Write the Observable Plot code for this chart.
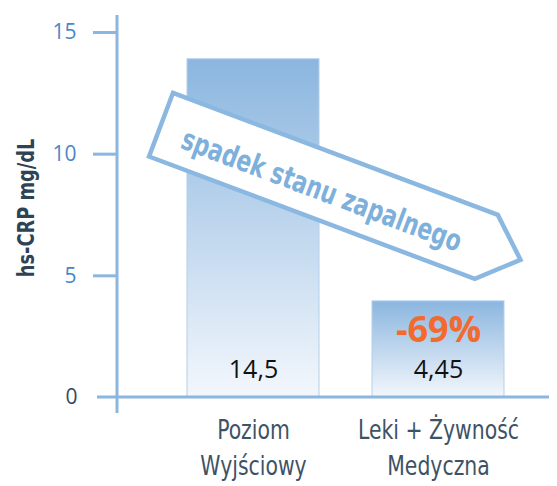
<!DOCTYPE html>
<html><head><meta charset="utf-8">
<script src="https://cdn.jsdelivr.net/npm/d3@7"></script>
<script src="https://cdn.jsdelivr.net/npm/@observablehq/plot@0.6"></script>
<style>body{margin:0;background:#fff}</style>
</head><body><div id="chart"></div>
<script>
const categories = ["Poziom\nWyjściowy", "Leki + Żywność\nMedyczna"];
const values = [13.9, 3.95];
const valueLabels = ["14,5", "4,45"];
const changeLabel = "-69%";
const yTicks = [0, 5, 10, 15];
const yLabel = "hs-CRP mg/dL";
const arrowLabel = "spadek stanu zapalnego";

const data = categories.map((c, i) => ({category: c, value: values[i], label: valueLabels[i]}));
const condensed = "'Liberation Sans Narrow', 'DejaVu Sans Condensed', sans-serif";
const axisBlue = "#8ab6df";

const plot = Plot.plot({
  width: 557, height: 486,
  marginLeft: 117, marginRight: 53, marginTop: 32, marginBottom: 89,
  style: {background: "#fff", overflow: "visible"},
  x: {domain: categories, paddingInner: 0.2865, paddingOuter: 0.189, align: 1, axis: null},
  y: {domain: [0, 15], axis: null},
  marks: [
    Plot.barY(data, {x: "category", y: "value", fill: "url(#barGrad)", stroke: "#b3cfea", strokeWidth: 1}),
    Plot.axisY(yTicks.filter(t => t > 0), {tickSize: 24, tickPadding: 17, fontSize: 21, fontFamily: "'Open Sans', sans-serif",
      fill: "#4a86c6", stroke: axisBlue, strokeWidth: 3, label: null}),
    Plot.axisY([0], {tickSize: 0, tickPadding: 40, fontSize: 21, fontFamily: "'Open Sans', sans-serif",
      fill: "#34495c", label: null}),
    Plot.axisX({tickSize: 0, tickPadding: 17, fontSize: 27, lineHeight: 1.3, fontFamily: condensed,
      fill: "#3e5266", label: null}),
    Plot.text(data, {x: "category", y: 0, text: "label", dy: -28, lineAnchor: "middle", fontSize: 25,
      fontFamily: "'Open Sans', sans-serif", fill: "#111"}),
    Plot.text([changeLabel], {x: () => categories[1], y: () => values[1], text: d => d, dy: 29, lineAnchor: "middle",
      fontSize: 36, fontWeight: "bold", fontFamily: "'Open Sans', sans-serif", fill: "#f26a2e"}),
    Plot.text([yLabel], {frameAnchor: "left", text: d => d, rotate: -90, dx: -91, dy: -7, textAnchor: "middle", lineAnchor: "middle",
      fontSize: 23, fontWeight: "bold", fontFamily: condensed, fill: "#2e4356"})
  ]
});

document.getElementById("chart").appendChild(plot);

const svg = d3.select(plot);
const defs = svg.insert("defs", ":first-child");
const g = defs.append("linearGradient").attr("id", "barGrad").attr("x1", 0).attr("y1", 0).attr("x2", 0).attr("y2", 1);
g.append("stop").attr("offset", "0%").attr("stop-color", "#8bb6df");
g.append("stop").attr("offset", "100%").attr("stop-color", "#f3f7fc");

// condense wide fallback font horizontally (reference uses a condensed face)
function condense(node, k) {
  const len = node.getComputedTextLength();
  if (len > 0) { node.setAttribute("textLength", len * k); node.setAttribute("lengthAdjust", "spacingAndGlyphs"); }
}
svg.selectAll("text").each(function () {
  if (this.textContent === yLabel) condense(this, 0.86);
});
svg.selectAll("text tspan").each(function () {
  if (categories.some(c => c.split("\n").includes(this.textContent))) condense(this, 0.84);
});
svg.selectAll("text").each(function () {
  if (!this.querySelector("tspan") && categories.some(c => c.split("\n").includes(this.textContent))) condense(this, 0.84);
});

const sx = plot.scale("x"), sy = plot.scale("y");
const X = v => sx.apply(v), Y = v => sy.apply(v);

// axis lines
const ax = svg.append("g").attr("stroke", axisBlue).attr("stroke-width", 3);
ax.append("line").attr("x1", 117).attr("x2", 117).attr("y1", Y(15.7)).attr("y2", Y(-0.66));
ax.append("line").attr("x1", 97).attr("x2", 549).attr("y1", Y(0)).attr("y2", Y(0));

// arrow annotation
const arr = svg.append("g")
  .attr("transform", `translate(${X(categories[0]) - 14},${Y(12.5)}) rotate(20.6)`);
arr.append("polygon")
  .attr("points", "0,0 347,0 384,34 348,68 0,68")
  .attr("fill", "#fff").attr("stroke", "#8ab8e0").attr("stroke-width", 4.5).attr("stroke-linejoin", "miter");
arr.append("text")
  .attr("x", 25).attr("y", 49).attr("text-anchor", "start")
  .attr("textLength", 297).attr("lengthAdjust", "spacingAndGlyphs")
  .attr("font-family", condensed).attr("font-weight", "bold").attr("font-size", 30)
  .attr("fill", "#7eb0dc").text(arrowLabel);
</script>
</body></html>
